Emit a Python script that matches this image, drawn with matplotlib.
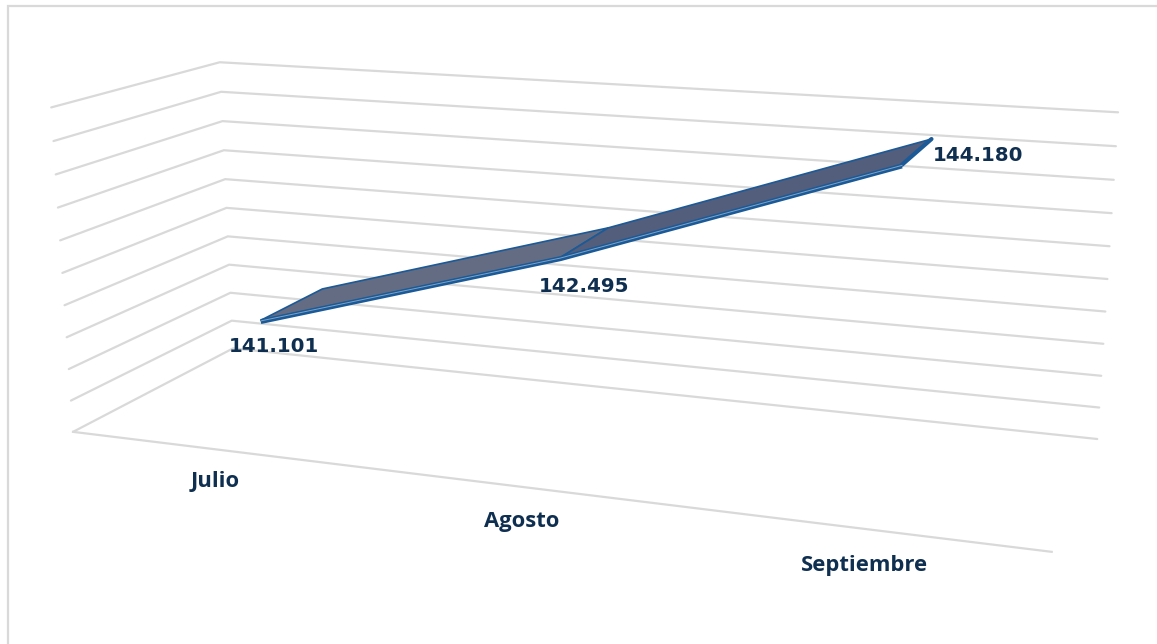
import numpy as np
import matplotlib
matplotlib.use("Agg")
import matplotlib.pyplot as plt
from matplotlib.patches import Polygon

categories = ["Julio", "Agosto", "Septiembre"]
values = [141.101, 142.495, 144.180]
value_labels = ["141.101", "142.495", "144.180"]
axis_min, axis_max = 139.5, 144.5
n_grid = 10

W, H = 1157, 644
TEXT = "#0f2f50"
GRID = "#d9d9d9"
EDGE = "#1b5a96"

# Camera fit: box corners (category, depth, value) -> picture position
box3d = np.array([(0,0,0),(1,0,0),(0,1,0),(1,1,0),(0,0,1),(0,1,1),(1,1,1)], float)
box2d = np.array([(73,432),(1052,551),(233,348),(1097,440),(51,108),(220,62),(1118,112)], float)
A = []
for (x, y, z), (u, v) in zip(box3d, box2d):
    A.append([x, y, z, 1, 0, 0, 0, 0, -u*x, -u*y, -u*z, -u])
    A.append([0, 0, 0, 0, x, y, z, 1, -v*x, -v*y, -v*z, -v])
P = np.linalg.svd(np.array(A))[2][-1].reshape(3, 4)

def proj(c, d, w):
    r = P @ np.array([c, d, w, 1.0])
    return r[0]/r[2], r[1]/r[2]

def frac(v):
    return (v - axis_min)/(axis_max - axis_min)

fig = plt.figure(figsize=(W/100, H/100), dpi=100)
ax = fig.add_axes([0, 0, 1, 1])
ax.set_xlim(0, W); ax.set_ylim(H, 0); ax.axis("off")

# frame
ax.plot([8, 8, W], [H, 6, 6], color=GRID, lw=1.6, solid_joinstyle="miter")

# gridlines on side and back walls
for i in range(n_grid + 1):
    w = i/n_grid
    pts = [proj(0, 0, w), proj(0, 1, w), proj(1, 1, w)]
    ax.plot(*zip(*pts), color=GRID, lw=1.6, solid_capstyle="round", zorder=1)
# floor front edge
ax.plot(*zip(proj(0, 0, 0), proj(1, 0, 0)), color=GRID, lw=1.6, zorder=1)

# ribbon
cpos = [(i + .5)/len(categories) for i in range(len(categories))]
D0, D1 = 0.31, 0.73
fills = ["#636c83", "#535d7c"]
for i in range(len(values) - 1):
    a, b = frac(values[i]), frac(values[i+1])
    quad = [proj(cpos[i], D0, a), proj(cpos[i], D1, a), proj(cpos[i+1], D1, b), proj(cpos[i+1], D0, b)]
    ax.add_patch(Polygon(quad, closed=True, fc=fills[i], ec=EDGE, lw=1.2, joinstyle="round", zorder=3))
front = [proj(c, D0, frac(v)) for c, v in zip(cpos, values)]
fx, fy = zip(*front)
ax.plot(fx, np.array(fy) + 1.2, color=EDGE, lw=3.6, solid_capstyle="butt", zorder=4)
ax.plot(fx, np.array(fy) + 0.6, color="#7fa3c8", lw=0.7, zorder=5)
# end cap of ribbon
ax.plot(*zip(proj(cpos[-1], D0, frac(values[-1])), proj(cpos[-1], D1, frac(values[-1]))),
        color=EDGE, lw=3, solid_capstyle="round", zorder=4)

num_font = dict(family="DejaVu Sans", weight="bold", color=TEXT, fontsize=14.3, ha="center", va="center")
label_pos = [(274, 346), (584, 286), (978, 155)]
for (x, y), t in zip(label_pos, value_labels):
    ax.text(x, y, t, zorder=6, **num_font)
cat_font = dict(family="Open Sans", weight="bold", color=TEXT, fontsize=15.8, ha="center", va="center")
cat_pos = [(215.5, 481), (522, 521), (864, 565)]
for (x, y), t in zip(cat_pos, categories):
    ax.text(x, y, t, zorder=6, **cat_font)

fig.savefig("out.png", dpi=100, facecolor="white")
